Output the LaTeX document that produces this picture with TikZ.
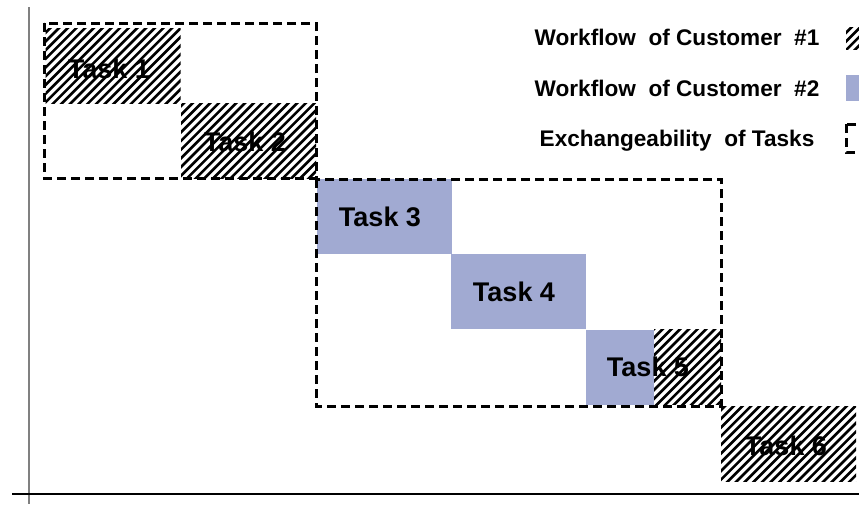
\documentclass[tikz,border=0pt]{standalone}
\usepackage{fontspec}
\setmainfont{Liberation Sans}
\definecolor{custblue}{RGB}{161,170,210}
\definecolor{axisgray}{RGB}{128,128,128}
% diagonal hatching of a rectangle, lines x+y=const with a common phase
\newcommand{\hatchbox}[4]{%
  \begin{scope}
    \clip (#1,#2) rectangle (#3,#4);
    \foreach \n in {0,...,160}{
      \draw[hatchline] ({\n*8.7-504},504) -- ({\n*8.7},0);
    }
  \end{scope}}
\begin{document}
\begin{tikzpicture}[x=1pt,y=-1pt,
  taskbox/.style={minimum width=135pt,minimum height=75pt,inner sep=0pt,outer sep=0pt},
  tasklabel/.style={inner sep=0pt,font=\fontsize{27}{30}\bfseries\selectfont,text height=19.3pt,text depth=0pt},
  hatchline/.style={black,line width=2.6pt},
  bluefill/.style={fill=custblue},
  exch/.style={draw=black,line width=3pt,dash pattern=on 9pt off 5pt},
  legtext/.style={inner sep=0pt,font=\fontsize{22.6}{26}\bfseries\selectfont,text height=16.2pt,text depth=0pt}]
\clip (0,0) rectangle (859,504);
\useasboundingbox (0,0) rectangle (859,504);
\fill[white] (0,0) rectangle (859,504);

% axes
\draw[axisgray,line width=2.4pt] (29,7) -- (29,504);
\draw[black,line width=2pt] (12,494) -- (859,494);

% tasks of customer #1 (hatched) and customer #2 (blue)
\node[taskbox] (t1) at (113,65.5) {};
\node[taskbox] (t2) at (248.5,140.5) {};
\node[taskbox,bluefill] (t3) at (384,216.5) {};
\node[taskbox,bluefill] (t4) at (518.5,291) {};
\node[taskbox,minimum width=68pt,bluefill] (t5a) at (620,367) {};
\node[taskbox,minimum width=67pt] (t5b) at (687.5,367) {};
\node[taskbox] (t6) at (788.5,444) {};
\hatchbox{45.5}{28}{180.5}{103}
\hatchbox{181}{103}{316}{178}
\hatchbox{654}{329.5}{721}{404.5}
\hatchbox{721}{406.5}{856}{481.5}

\node[tasklabel] (l1) at (109,69) {Task 1};
\node[tasklabel] (l2) at (245,142) {Task 2};
\node[tasklabel] (l3) at (380,217) {Task 3};
\node[tasklabel] (l4) at (514,292) {Task 4};
\node[tasklabel] (l5) at (648,367) {Task 5};
\node[tasklabel] (l6) at (786,446) {Task 6};

% groups of exchangeable tasks
\draw[exch] (44,23) rectangle (316,178);
\draw[exch] (316,179) rectangle (721,406);

% legend
\node[legtext] (k1) at (677,37) {Workflow\ \ of Customer\ \ \#1};
\node[legtext] (k2) at (677,88) {Workflow\ \ of Customer\ \ \#2};
\node[legtext] (k3) at (677,138) {Exchangeability\ \ of Tasks};
\hatchbox{846}{27}{872}{49}
\fill[custblue] (846,75) rectangle (872,101);
\draw[exch] (846,124) rectangle (872,152);
\end{tikzpicture}
\end{document}
